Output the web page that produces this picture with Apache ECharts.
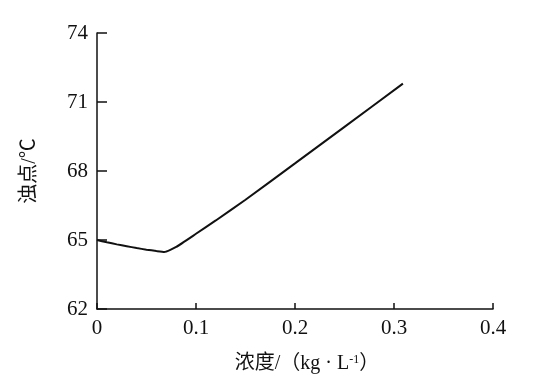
<!DOCTYPE html>
<html>
<head>
<meta charset="utf-8">
<script src="https://cdn.jsdelivr.net/npm/echarts@6/dist/echarts.min.js"></script>
<style>
html,body{margin:0;padding:0;background:#fff;}
#chart{width:546px;height:381px;}
</style>
</head>
<body>
<div id="chart"></div>
<script>
const concentration = [0, 0.01, 0.02, 0.03, 0.04, 0.05, 0.06, 0.068, 0.08, 0.1, 0.12, 0.15, 0.2, 0.25, 0.309];
const cloudPoint = [65.0, 64.9, 64.81, 64.73, 64.65, 64.58, 64.52, 64.48, 64.7, 65.27, 65.85, 66.75, 68.33, 69.92, 71.8];
const xTicks = [0, 0.1, 0.2, 0.3, 0.4];
const yTicks = [62, 65, 68, 71, 74];
const xName = '浓度/（kg · L{sup|-1}）';
const yName = '浊点/℃';

const serif = '"Liberation Serif", "DejaVu Serif", serif';
const cjk = '"Liberation Serif", "Noto Sans CJK SC", serif';

const chart = echarts.init(document.getElementById('chart'));
chart.setOption({
  animation: false,
  backgroundColor: '#fff',
  grid: { left: 97, right: 53, top: 33, bottom: 72, containLabel: false },
  xAxis: {
    type: 'value',
    min: xTicks[0], max: xTicks[xTicks.length - 1], interval: 0.1,
    name: xName,
    nameLocation: 'middle',
    nameGap: 45,
    nameTextStyle: {
      fontFamily: cjk, fontSize: 20, color: '#111', padding: [0, 0, 0, 24],
      rich: { sup: { fontSize: 12, verticalAlign: 'top', padding: [0, 0, 8, 0], fontFamily: serif, color: '#111' } }
    },
    axisLine: { lineStyle: { color: '#111', width: 1.5 } },
    axisTick: { inside: true, length: 6, lineStyle: { color: '#111', width: 1.5 } },
    axisLabel: { fontFamily: serif, fontSize: 21, color: '#111', margin: 9 },
    splitLine: { show: false }
  },
  yAxis: {
    type: 'value',
    min: yTicks[0], max: yTicks[yTicks.length - 1], interval: 3,
    name: yName,
    nameLocation: 'middle',
    nameGap: 57,
    nameTextStyle: { fontFamily: cjk, fontSize: 20, color: '#111' },
    axisLine: { show: true, lineStyle: { color: '#111', width: 1.5 } },
    axisTick: { show: true, inside: true, length: 10, lineStyle: { color: '#111', width: 1.5 } },
    axisLabel: { fontFamily: serif, fontSize: 21, color: '#111', margin: 9 },
    splitLine: { show: false }
  },
  series: [{
    type: 'line',
    data: concentration.map((x, i) => [x, cloudPoint[i]]),
    showSymbol: false,
    smooth: 0.15,
    lineStyle: { color: '#111', width: 2 }
  }]
});
</script>
</body>
</html>
